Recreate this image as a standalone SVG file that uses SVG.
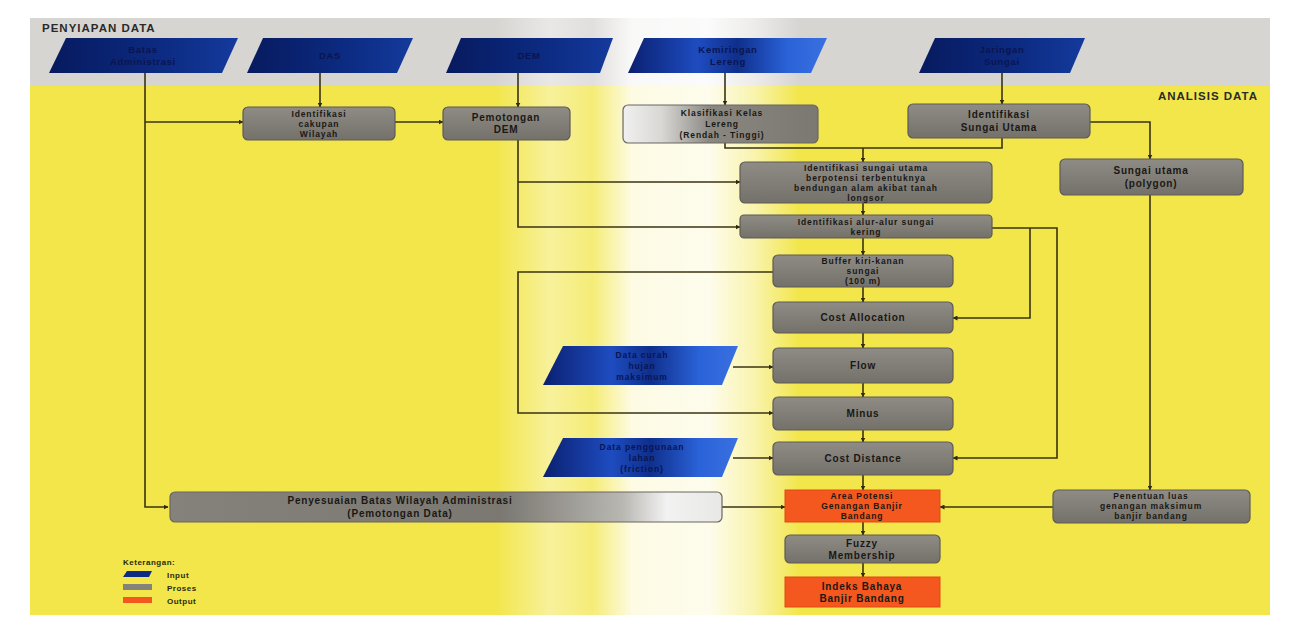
<svg xmlns="http://www.w3.org/2000/svg" width="1296" height="629" viewBox="0 0 1296 629">
<defs>
<linearGradient id="gIn" x1="0" y1="0" x2="1" y2="0">
<stop offset="0" stop-color="#071a5e"/><stop offset="0.6" stop-color="#0c2b82"/><stop offset="1" stop-color="#143a9c"/>
</linearGradient>
<linearGradient id="gInL" x1="0" y1="0" x2="1" y2="0">
<stop offset="0" stop-color="#0a2070"/><stop offset="0.35" stop-color="#1e4cc0"/><stop offset="0.55" stop-color="#0f2f8c"/><stop offset="0.8" stop-color="#2a62d8"/><stop offset="1" stop-color="#3a70e0"/>
</linearGradient>
<linearGradient id="gBox" x1="0" y1="0" x2="0" y2="1">
<stop offset="0" stop-color="#8f8c86"/><stop offset="1" stop-color="#74716b"/>
</linearGradient>
<linearGradient id="gPeny" x1="0" y1="0" x2="1" y2="0">
<stop offset="0" stop-color="#85827c"/><stop offset="0.6" stop-color="#7b7872"/><stop offset="0.82" stop-color="#b9b7b2"/><stop offset="0.9" stop-color="#f2f2f2"/><stop offset="1" stop-color="#e8e8e6"/>
</linearGradient>
<linearGradient id="gKlas" x1="0" y1="0" x2="1" y2="0">
<stop offset="0" stop-color="#f0f0f0"/><stop offset="0.2" stop-color="#d8d7d4"/><stop offset="0.45" stop-color="#8a8781"/><stop offset="1" stop-color="#7b7872"/>
</linearGradient>
<linearGradient id="gWash" x1="0" y1="0" x2="1" y2="0">
<stop offset="0" stop-color="#ffffff" stop-opacity="0"/>
<stop offset="0.18" stop-color="#ffffff" stop-opacity="0.45"/>
<stop offset="0.32" stop-color="#ffffff" stop-opacity="0.25"/>
<stop offset="0.45" stop-color="#ffffff" stop-opacity="0.85"/>
<stop offset="0.7" stop-color="#ffffff" stop-opacity="0.9"/>
<stop offset="0.85" stop-color="#ffffff" stop-opacity="0.55"/>
<stop offset="1" stop-color="#ffffff" stop-opacity="0"/>
</linearGradient>
<marker id="arr" viewBox="0 0 10 10" refX="9" refY="5" markerWidth="5" markerHeight="5" orient="auto" markerUnits="userSpaceOnUse">
<path d="M0,0 L10,5 L0,10 z" fill="#2f2a10"/>
</marker>
</defs>
<style>
.ln{fill:none;stroke:#3a3312;stroke-width:1.6}
.box{fill:url(#gBox);stroke:#5e5b55;stroke-width:1.2}
.out{fill:#f4581e;stroke:#e04a14;stroke-width:1}
.inp{fill:url(#gIn)}
.inpL{fill:url(#gInL)}
.t{font-family:"Liberation Sans",Arial,sans-serif;font-size:10px;font-weight:bold;letter-spacing:0.8px;fill:#1a1814;text-anchor:middle}
.ts{font-family:"Liberation Sans",Arial,sans-serif;font-size:8.5px;font-weight:bold;letter-spacing:0.9px;fill:#1a1814;text-anchor:middle}
.ti{font-family:"Liberation Sans",Arial,sans-serif;font-size:9.5px;font-weight:bold;letter-spacing:0.7px;fill:#0a1550;text-anchor:middle}
.hd{font-family:"Liberation Sans",Arial,sans-serif;font-size:11.5px;font-weight:bold;letter-spacing:1px;fill:#2a2a2a}
.lg{font-family:"Liberation Sans",Arial,sans-serif;font-size:8px;font-weight:bold;letter-spacing:0.5px;fill:#2a2a10}
</style>

<g id="background">
<rect x="0" y="0" width="1296" height="629" fill="#ffffff"/>
<rect x="30" y="18" width="1240" height="68" fill="#d7d5d2"/>
<rect x="30" y="86" width="1240" height="529" fill="#f2e64a"/>
<rect x="495" y="18" width="305" height="597" fill="url(#gWash)"/>
<text class="hd" x="42" y="32">PENYIAPAN DATA</text>
<text class="hd" x="1258" y="100" text-anchor="end">ANALISIS DATA</text>
</g>

<g id="connectors">
<path class="ln" d="M145,73 V507 H168" marker-end="url(#arr)"/>
<path class="ln" d="M145,122 H243" marker-end="url(#arr)"/>
<path class="ln" d="M320,73 V107" marker-end="url(#arr)"/>
<path class="ln" d="M395,122 H443" marker-end="url(#arr)"/>
<path class="ln" d="M518,73 V107" marker-end="url(#arr)"/>
<path class="ln" d="M518,140 V227 H740" marker-end="url(#arr)"/>
<path class="ln" d="M518,182 H740" marker-end="url(#arr)"/>
<path class="ln" d="M725,73 V105" marker-end="url(#arr)"/>
<path class="ln" d="M725,143 V148 H1002 V138"/>
<path class="ln" d="M863,148 V162" marker-end="url(#arr)"/>
<path class="ln" d="M1002,73 V104" marker-end="url(#arr)"/>
<path class="ln" d="M1090,122 H1150 V159" marker-end="url(#arr)"/>
<path class="ln" d="M1150,195 V490" marker-end="url(#arr)"/>
<path class="ln" d="M863,203 V215" marker-end="url(#arr)"/>
<path class="ln" d="M863,238 V255" marker-end="url(#arr)"/>
<path class="ln" d="M992,228 H1057 V458 H953" marker-end="url(#arr)"/>
<path class="ln" d="M1030,228 V318 H953" marker-end="url(#arr)"/>
<path class="ln" d="M773,272 H518 V413 H773" marker-end="url(#arr)"/>
<path class="ln" d="M863,287 V302" marker-end="url(#arr)"/>
<path class="ln" d="M863,333 V348" marker-end="url(#arr)"/>
<path class="ln" d="M863,383 V397" marker-end="url(#arr)"/>
<path class="ln" d="M863,430 V442" marker-end="url(#arr)"/>
<path class="ln" d="M863,475 V490" marker-end="url(#arr)"/>
<path class="ln" d="M863,522 V535" marker-end="url(#arr)"/>
<path class="ln" d="M863,563 V577" marker-end="url(#arr)"/>
<path class="ln" d="M733,367 H773" marker-end="url(#arr)"/>
<path class="ln" d="M733,458 H773" marker-end="url(#arr)"/>
<path class="ln" d="M722,507 H785" marker-end="url(#arr)"/>
<path class="ln" d="M1053,507 H940" marker-end="url(#arr)"/>
</g>

<g id="in1"><polygon class="inp" points="66,38 238,38 222,73 49,73"/>
<text class="ti" x="143" y="53">Batas</text><text class="ti" x="143" y="65">Administrasi</text></g>
<g id="in2"><polygon class="inp" points="263,38 413,38 397,73 247,73"/>
<text class="ti" x="330" y="59">DAS</text></g>
<g id="in3"><polygon class="inp" points="461,38 613,38 600,73 446,73"/>
<text class="ti" x="529" y="59">DEM</text></g>
<g id="in4"><polygon class="inpL" points="644,38 827,38 811,73 628,73"/>
<text class="ti" x="728" y="53">Kemiringan</text><text class="ti" x="728" y="65">Lereng</text></g>
<g id="in5"><polygon class="inp" points="935,38 1085,38 1070,73 919,73"/>
<text class="ti" x="1002" y="53">Jaringan</text><text class="ti" x="1002" y="65">Sungai</text></g>

<g id="p1"><rect class="box" x="243" y="107" width="152" height="33" rx="5"/>
<text class="ts" x="319" y="117">Identifikasi</text><text class="ts" x="319" y="127">cakupan</text><text class="ts" x="319" y="137">Wilayah</text></g>
<g id="p2"><rect class="box" x="443" y="107" width="127" height="33" rx="5"/>
<text class="t" x="506" y="121">Pemotongan</text><text class="t" x="506" y="133">DEM</text></g>
<g id="p3"><rect x="623" y="105" width="195" height="38" rx="5" fill="url(#gKlas)" stroke="#6a6760" stroke-width="1.2"/>
<text class="ts" x="722" y="116">Klasifikasi Kelas</text><text class="ts" x="722" y="127">Lereng</text><text class="ts" x="722" y="138">(Rendah - Tinggi)</text></g>
<g id="p4"><rect class="box" x="908" y="104" width="182" height="34" rx="5"/>
<text class="t" x="999" y="118">Identifikasi</text><text class="t" x="999" y="131">Sungai Utama</text></g>
<g id="p5"><rect class="box" x="740" y="162" width="252" height="41" rx="5"/>
<text class="ts" x="866" y="171">Identifikasi sungai utama</text><text class="ts" x="866" y="181">berpotensi terbentuknya</text><text class="ts" x="866" y="191">bendungan alam akibat tanah</text><text class="ts" x="866" y="201">longsor</text></g>
<g id="p6"><rect class="box" x="740" y="215" width="252" height="23" rx="4"/>
<text class="ts" x="866" y="225">Identifikasi alur-alur sungai</text><text class="ts" x="866" y="235">kering</text></g>
<g id="p7"><rect class="box" x="1060" y="159" width="183" height="36" rx="5"/>
<text class="t" x="1151" y="174">Sungai utama</text><text class="t" x="1151" y="187">(polygon)</text></g>
<g id="p8"><rect class="box" x="773" y="255" width="180" height="32" rx="5"/>
<text class="ts" x="863" y="264">Buffer kiri-kanan</text><text class="ts" x="863" y="274">sungai</text><text class="ts" x="863" y="284">(100 m)</text></g>
<g id="p9"><rect class="box" x="773" y="302" width="180" height="31" rx="5"/>
<text class="t" x="863" y="321">Cost Allocation</text></g>
<g id="p10"><rect class="box" x="773" y="348" width="180" height="35" rx="5"/>
<text class="t" x="863" y="369">Flow</text></g>
<g id="p11"><rect class="box" x="773" y="397" width="180" height="33" rx="5"/>
<text class="t" x="863" y="417">Minus</text></g>
<g id="p12"><rect class="box" x="773" y="442" width="180" height="33" rx="5"/>
<text class="t" x="863" y="462">Cost Distance</text></g>
<g id="in6"><polygon class="inpL" points="563,346 738,346 722,385 543,385"/>
<text class="ts" x="642" y="358" style="fill:#0a1550">Data curah</text><text class="ts" x="642" y="369" style="fill:#0a1550">hujan</text><text class="ts" x="642" y="380" style="fill:#0a1550">maksimum</text></g>
<g id="in7"><polygon class="inpL" points="563,438 738,438 722,477 543,477"/>
<text class="ts" x="642" y="450" style="fill:#0a1550">Data penggunaan</text><text class="ts" x="642" y="461" style="fill:#0a1550">lahan</text><text class="ts" x="642" y="472" style="fill:#0a1550">(friction)</text></g>
<g id="p13"><rect x="170" y="492" width="552" height="30" rx="5" fill="url(#gPeny)" stroke="#6a6760" stroke-width="1.2"/>
<text class="t" x="400" y="504">Penyesuaian Batas Wilayah Administrasi</text><text class="t" x="400" y="517">(Pemotongan Data)</text></g>
<g id="o1"><rect class="out" x="785" y="490" width="155" height="32"/>
<text class="ts" x="862" y="499">Area Potensi</text><text class="ts" x="862" y="509">Genangan Banjir</text><text class="ts" x="862" y="519">Bandang</text></g>
<g id="p14"><rect class="box" x="785" y="535" width="155" height="28" rx="5"/>
<text class="t" x="862" y="547">Fuzzy</text><text class="t" x="862" y="559">Membership</text></g>
<g id="o2"><rect class="out" x="785" y="577" width="155" height="30"/>
<text class="t" x="862" y="590">Indeks Bahaya</text><text class="t" x="862" y="602">Banjir Bandang</text></g>
<g id="p15"><rect class="box" x="1053" y="490" width="197" height="33" rx="5"/>
<text class="ts" x="1151" y="499">Penentuan luas</text><text class="ts" x="1151" y="509">genangan maksimum</text><text class="ts" x="1151" y="519">banjir bandang</text></g>

<g id="legend">
<text class="lg" x="123" y="565">Keterangan:</text>
<polygon points="127,571 152,571 149,577 123,577" fill="#0c2b82"/>
<rect x="123" y="584" width="29" height="6" fill="#858279"/>
<rect x="123" y="597" width="29" height="6" fill="#f4581e"/>
<text class="lg" x="167" y="578">Input</text>
<text class="lg" x="167" y="591">Proses</text>
<text class="lg" x="167" y="604">Output</text>
</g>
</svg>
